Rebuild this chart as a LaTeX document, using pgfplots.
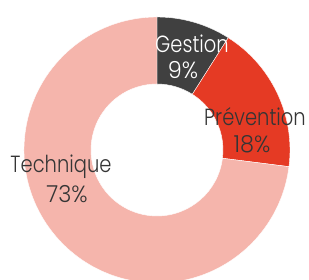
\documentclass[border=0pt]{standalone}
\usepackage{graphicx}
\usepackage{pgfplots}
\pgfplotsset{compat=1.18}
\usepackage{fontspec}
\setmainfont{Poppins Light}
\definecolor{cGest}{HTML}{404040}
\definecolor{cPrev}{HTML}{E53A24}
\definecolor{cTech}{HTML}{F5B5AC}
\definecolor{cTxt}{HTML}{353535}
\newcommand{\lbl}[1]{\scalebox{1}[1.2]{#1}}
\newcommand{\pct}[1]{\scalebox{1.15}[1.2]{#1}}
\begin{document}
\begin{tikzpicture}
\path[use as bounding box, clip] (0,0) rectangle (309pt,280pt);
\begin{axis}[
  x=1pt, y=1pt,
  xmin=-157, xmax=152, ymin=-130, ymax=150,
  hide axis, clip=false,
  anchor=south west, at={(0,0)},
]
% values: Gestion 9, Prevention 18, Technique 73 (percent)
\fill[cGest, draw=white, line width=0.4pt, shift={(axis cs:0,0)}]
  (90:133pt) arc[start angle=90, end angle={90-3.6*9}, radius=133pt]
  -- ({90-3.6*9}:66pt) arc[start angle={90-3.6*9}, end angle=90, radius=66pt] -- cycle;
\fill[cPrev, draw=white, line width=0.4pt, shift={(axis cs:0,0)}]
  ({90-3.6*9}:133pt) arc[start angle={90-3.6*9}, end angle={90-3.6*27}, radius=133pt]
  -- ({90-3.6*27}:66pt) arc[start angle={90-3.6*27}, end angle={90-3.6*9}, radius=66pt] -- cycle;
\fill[cTech, draw=white, line width=0.4pt, shift={(axis cs:0,0)}]
  ({90-3.6*27}:133pt) arc[start angle={90-3.6*27}, end angle={90-3.6*100}, radius=133pt]
  -- ({90-3.6*100}:66pt) arc[start angle={90-3.6*100}, end angle={90-3.6*27}, radius=66pt] -- cycle;
\node[anchor=base, white, font=\fontsize{19.5}{22}\selectfont] at (axis cs:35,97.7) {\lbl{Gestion}};
\node[anchor=base, white, font=\fontsize{19.5}{22}\selectfont] at (axis cs:26,71) {\pct{9\%}};
\node[anchor=base, cTxt, font=\fontsize{19.5}{22}\selectfont] at (axis cs:98,24.3) {\lbl{Prévention}};
\node[anchor=base, cTxt, font=\fontsize{19.5}{22}\selectfont] at (axis cs:95,-2.3) {\pct{18\%}};
\node[anchor=base, cTxt, font=\fontsize{19.5}{22}\selectfont] at (axis cs:-96,-23) {\lbl{Technique}};
\node[anchor=base, cTxt, font=\fontsize{19.5}{22}\selectfont] at (axis cs:-90,-53) {\pct{73\%}};
\end{axis}
\end{tikzpicture}
\end{document}
